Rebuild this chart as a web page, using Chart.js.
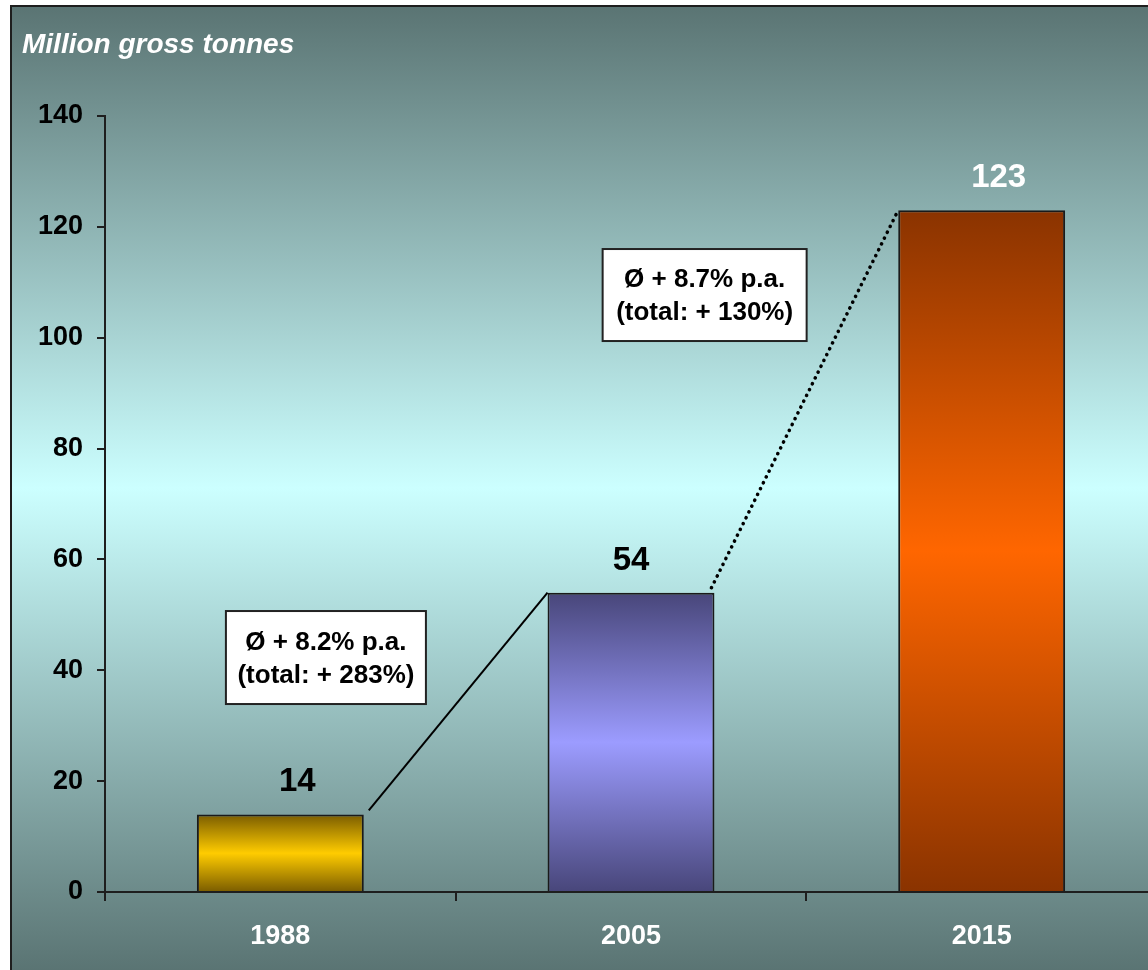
<!DOCTYPE html>
<html>
<head>
<meta charset="utf-8">
<script src="https://cdn.jsdelivr.net/npm/chart.js@4.4.1/dist/chart.umd.min.js"></script>
<style>
  html, body { margin: 0; padding: 0; overflow: hidden; background: #fff; }
  #wrap { width: 1160px; height: 970px; }
</style>
</head>
<body>
<div id="wrap"><canvas id="c" width="1160" height="970"></canvas></div>
<script>
// ---- data ----
const categories = ['1988', '2005', '2015'];
const values = [14, 54, 123];
const valueLabels = ['14', '54', '123'];
const yMin = 0, yMax = 140, yStep = 20;
const unitTitle = 'Million gross tonnes';
const growthNotes = [
  ['Ø + 8.2% p.a.', '(total: + 283%)'],
  ['Ø + 8.7% p.a.', '(total: + 130%)']
];
// note anchors in data units: [category index, value]
const noteAnchors = [[0.13, 42.3], [1.21, 107.7]];

// ---- styles ----
const FONT = "'Liberation Sans', Arial, sans-serif";
const barDark = ['#7a5c00', '#48467a', '#8a3300'];
const barLight = ['#ffcc00', '#9c9cff', '#ff6600'];
const valueLabelColors = ['#000', '#000', '#fff'];
const valueLabelShift = [17, 0, 17];

const bgPlugin = {
  id: 'bg',
  beforeDraw(chart) {
    const ctx = chart.ctx;
    const W = chart.width, H = chart.height;
    ctx.save();
    ctx.fillStyle = '#ffffff';
    ctx.fillRect(0, 0, W, H);
    const g = ctx.createLinearGradient(0, 6, 0, H);
    g.addColorStop(0, '#5a7473');
    g.addColorStop(0.5, '#ccffff');
    g.addColorStop(1, '#5a7473');
    ctx.fillStyle = g;
    ctx.fillRect(11, 6, W - 11, H - 6);
    ctx.strokeStyle = '#1e1e1e';
    ctx.lineWidth = 2;
    ctx.beginPath();
    ctx.moveTo(11, H);
    ctx.lineTo(11, 6);
    ctx.lineTo(W, 6);
    ctx.stroke();
    // unit title
    ctx.fillStyle = '#ffffff';
    ctx.font = 'italic bold 28px ' + FONT;
    ctx.textAlign = 'left';
    ctx.textBaseline = 'alphabetic';
    ctx.fillText(unitTitle, 22, 53);
    ctx.restore();
  }
};

const overlayPlugin = {
  id: 'overlay',
  afterDatasetsDraw(chart) {
    const ctx = chart.ctx;
    const meta = chart.getDatasetMeta(0);
    const xs = chart.scales.x, ys = chart.scales.y;
    ctx.save();
    // value labels
    ctx.font = 'bold 33px ' + FONT;
    ctx.textAlign = 'center';
    ctx.textBaseline = 'alphabetic';
    meta.data.forEach((bar, i) => {
      ctx.fillStyle = valueLabelColors[i];
      ctx.fillText(valueLabels[i], bar.x + valueLabelShift[i], bar.y - 23);
    });
    // connectors
    const b0 = meta.data[0], b1 = meta.data[1], b2 = meta.data[2];
    ctx.strokeStyle = '#000';
    ctx.lineWidth = 2;
    ctx.beginPath();
    ctx.moveTo(b0.x + b0.width / 2 + 5, b0.y - 4);
    ctx.lineTo(b1.x - b1.width / 2, b1.y);
    ctx.stroke();
    ctx.lineWidth = 3.6;
    ctx.lineCap = 'round';
    ctx.setLineDash([0.1, 6.4]);
    ctx.beginPath();
    ctx.moveTo(b1.x + b1.width / 2 - 3, b1.y - 5);
    ctx.lineTo(b2.x - b2.width / 2, b2.y);
    ctx.stroke();
    ctx.setLineDash([]);
    ctx.lineCap = 'butt';
    // note boxes
    const boxW = [200, 204], boxH = [93, 92];
    growthNotes.forEach((lines, i) => {
      const cx = xs.getPixelForValue(noteAnchors[i][0]);
      const cy = ys.getPixelForValue(noteAnchors[i][1]);
      const x0 = cx - boxW[i] / 2, y0 = cy - boxH[i] / 2;
      ctx.fillStyle = '#fff';
      ctx.fillRect(x0, y0, boxW[i], boxH[i]);
      ctx.strokeStyle = '#222';
      ctx.lineWidth = 2;
      ctx.strokeRect(x0, y0, boxW[i], boxH[i]);
      ctx.fillStyle = '#000';
      ctx.font = 'bold 26px ' + FONT;
      ctx.textAlign = 'center';
      ctx.textBaseline = 'middle';
      ctx.fillText(lines[0], cx, cy - 15);
      ctx.fillText(lines[1], cx, cy + 18);
    });
    ctx.restore();
  }
};

new Chart(document.getElementById('c'), {
  type: 'bar',
  data: {
    labels: categories,
    datasets: [{
      data: values,
      backgroundColor(c) {
        const i = c.dataIndex;
        const ys = c.chart.scales.y;
        if (c.type !== 'data' || !ys || !c.chart.chartArea) return barLight[i] || '#888';
        const top = ys.getPixelForValue(values[i]);
        const bot = ys.getPixelForValue(0);
        const g = c.chart.ctx.createLinearGradient(0, top, 0, bot);
        g.addColorStop(0, barDark[i]);
        g.addColorStop(0.5, barLight[i]);
        g.addColorStop(1, barDark[i]);
        return g;
      },
      borderColor: '#1a1a1a',
      borderWidth: 2,
      borderSkipped: 'bottom',
      categoryPercentage: 1,
      barPercentage: 0.476
    }]
  },
  options: {
    responsive: false,
    animation: false,
    devicePixelRatio: 1,
    layout: { padding: { top: 116, right: 3, left: 0, bottom: 0 } },
    plugins: { legend: { display: false }, tooltip: { enabled: false }, title: { display: false } },
    scales: {
      x: {
        grid: { offset: true, drawOnChartArea: false, drawTicks: true, tickLength: 9, color: '#1e1e1e', lineWidth: 2 },
        border: { display: true, color: '#1e1e1e', width: 2 },
        ticks: { color: '#ffffff', font: { family: FONT, size: 27, weight: 'bold' }, padding: 19, maxRotation: 0 },
        afterFit(s) { s.height = 78; }
      },
      y: {
        min: yMin, max: yMax,
        grid: { drawOnChartArea: false, drawTicks: true, tickLength: 8, color: '#1e1e1e', lineWidth: 2 },
        border: { display: true, color: '#1e1e1e', width: 2 },
        ticks: { stepSize: yStep, color: '#000', font: { family: FONT, size: 27, weight: 'bold' }, padding: 14 },
        afterFit(s) { s.width = 105; }
      }
    }
  },
  plugins: [bgPlugin, overlayPlugin]
});
</script>
</body>
</html>
